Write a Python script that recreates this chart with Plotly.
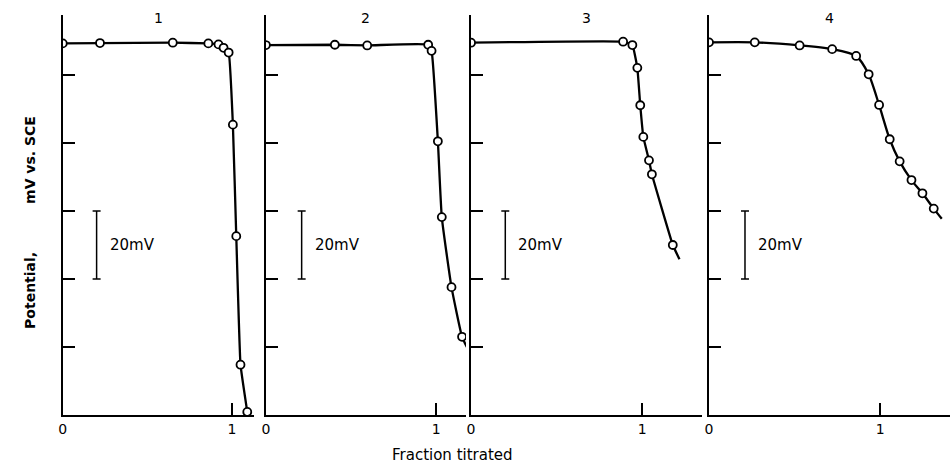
import plotly.graph_objects as go

# ---------------- data (fraction titrated, potential in mV relative to axis bottom) -------------
p1_x = [0.0, 0.22, 0.65, 0.86, 0.92, 0.95, 0.98, 1.005, 1.025, 1.05, 1.09]
p1_y = [109.3, 109.4, 109.5, 109.3, 109.0, 108.0, 106.6, 85.4, 52.6, 14.8, 0.9]

p2_x = [0.0, 0.405, 0.595, 0.953, 0.973, 1.01, 1.033, 1.09, 1.152]
p2_y = [108.8, 108.9, 108.7, 108.9, 107.1, 80.5, 58.2, 37.6, 23.0]
p2_end = (1.18, 20.0)

p3_x = [0.0, 0.888, 0.942, 0.971, 0.988, 1.006, 1.039, 1.056, 1.178]
p3_y = [109.5, 109.8, 108.8, 102.1, 91.1, 81.8, 74.9, 70.8, 50.0]
p3_end = (1.217, 45.8)

p4_x = [0.0, 0.267, 0.529, 0.719, 0.859, 0.932, 0.993, 1.055, 1.113, 1.182, 1.246, 1.312]
p4_y = [109.6, 109.6, 108.7, 107.6, 105.6, 100.2, 91.2, 81.1, 74.6, 69.1, 65.2, 60.7]
p4_end = (1.359, 57.7)

panel_titles = ["1", "2", "3", "4"]
x_tick_vals = [0, 1]
x_tick_text = ["0", "1"]
y_tick_vals = [20, 40, 60, 80, 100]
scale_bar_x = [0.2, 0.21, 0.2, 0.21]
scale_bar_lo, scale_bar_hi = 40, 60
scale_bar_label = "20mV"

panels = [
    (p1_x, p1_y, None, 0.3),
    (p2_x, p2_y, p2_end, 0.4),
    (p3_x, p3_y, p3_end, 0.3),
    (p4_x, p4_y, p4_end, 0.7),
]

# ---------------- layout geometry ----------------
W, H = 950, 475
x_doms_px = [(59, 251), (263, 464), (469, 701), (708, 950)]
px_per_unit = [170, 171, 172, 172]
y_bottom_px, y_top_px = 415, 15
px_per_mV = 3.4
y_max = (y_bottom_px - y_top_px) / px_per_mV

FONT = "DejaVu Sans"
fig = go.Figure()
layout = dict(
    width=W, height=H, margin=dict(l=0, r=0, t=0, b=0),
    paper_bgcolor="white", plot_bgcolor="white", showlegend=False,
    font=dict(family=FONT, color="black", size=14),
)

annotations = []
for i, (xs, ys, end, smooth) in enumerate(panels):
    k = "" if i == 0 else str(i + 1)
    xa, ya = "x" + k, "y" + k
    x0, x1 = x_doms_px[i]
    xr = (x1 - x0) / px_per_unit[i]
    layout["xaxis" + k] = dict(
        domain=[x0 / W, x1 / W], range=[0, xr], anchor=ya,
        showline=True, linecolor="black", linewidth=2, showgrid=False, zeroline=False,
        tickvals=x_tick_vals, ticktext=x_tick_text, ticks="inside", ticklen=12,
        tickwidth=1.5, tickcolor="black", tickfont=dict(size=14, family=FONT),
    )
    layout["yaxis" + k] = dict(
        domain=[1 - y_bottom_px / H, 1 - y_top_px / H], range=[0, y_max], anchor=xa,
        showline=True, linecolor="black", linewidth=2, showgrid=False, zeroline=False,
        tickvals=y_tick_vals, showticklabels=False, ticks="inside", ticklen=12,
        tickwidth=1.5, tickcolor="black",
    )
    lx = list(xs) + ([end[0]] if end else [])
    ly = list(ys) + ([end[1]] if end else [])
    fig.add_trace(go.Scatter(
        x=lx, y=ly, mode="lines", xaxis=xa, yaxis=ya,
        line=dict(color="black", width=2.3, shape="spline", smoothing=smooth),
        hoverinfo="skip"))
    fig.add_trace(go.Scatter(
        x=xs, y=ys, mode="markers", xaxis=xa, yaxis=ya,
        marker=dict(symbol="circle", size=8, color="white",
                    line=dict(color="black", width=1.8))))
    # 20 mV scale bar
    mid = (scale_bar_lo + scale_bar_hi) / 2
    half = (scale_bar_hi - scale_bar_lo) / 2
    fig.add_trace(go.Scatter(
        x=[scale_bar_x[i]], y=[mid], mode="markers", xaxis=xa, yaxis=ya,
        marker=dict(size=1, color="rgba(0,0,0,0)"),
        error_y=dict(type="constant", value=half, color="black", thickness=1.5, width=4),
        hoverinfo="skip"))
    annotations.append(dict(
        x=scale_bar_x[i] + 0.065, y=mid, xref=xa, yref=ya, text=scale_bar_label,
        showarrow=False, xanchor="left", yanchor="middle",
        font=dict(size=15, family=FONT)))
    # panel number
    annotations.append(dict(
        x=(x0 + x1) / 2 / W, y=1 - 18 / H, xref="paper", yref="paper",
        text=panel_titles[i], showarrow=False, xanchor="center", yanchor="middle",
        font=dict(size=14, family=FONT)))

annotations += [
    dict(x=16 / W, y=1 - 160 / H, xref="paper", yref="paper", text="<b>mV vs. SCE</b>",
         textangle=-90, showarrow=False, font=dict(size=14, family=FONT)),
    dict(x=16 / W, y=1 - 290 / H, xref="paper", yref="paper", text="<b>Potential,</b>",
         textangle=-90, showarrow=False, font=dict(size=14, family=FONT)),
    dict(x=450 / W, y=1 - 466 / H, xref="paper", yref="paper", text="Fraction titrated",
         showarrow=False, font=dict(size=15, family=FONT)),
]
layout["annotations"] = annotations
fig.update_layout(**layout)
fig.write_html("out.html")
